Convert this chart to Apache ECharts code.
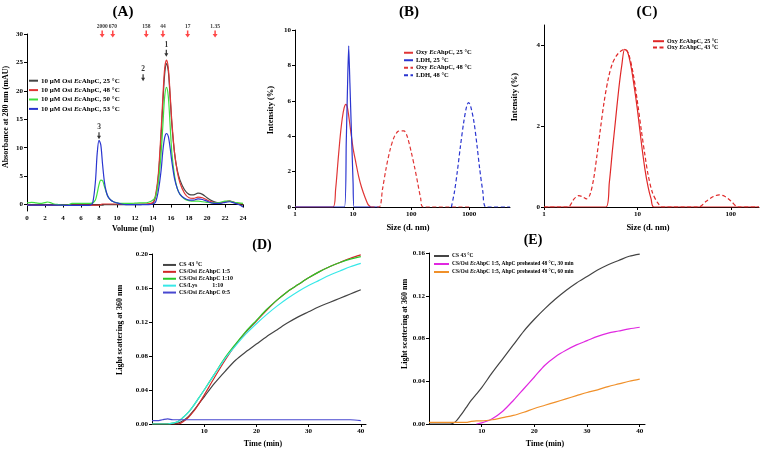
<!DOCTYPE html>
<html><head><meta charset="utf-8">
<script src="https://cdn.jsdelivr.net/npm/echarts@6/dist/echarts.min.js"></script>
<style>html,body{margin:0;padding:0;background:#fff}#c{width:760px;height:450px}</style>
</head><body><div id="c"></div>
<script>
// ---------- Panel A : SEC ----------
const aVol = [0,0.5,1,1.5,2,2.3,2.6,3,3.5,4,4.5,5,5.5,6,6.5,7,7.3,7.6,7.8,8.0,8.2,8.4,8.6,8.8,9.0,9.3,9.6,10,10.5,11,11.5,12,12.5,13,13.5,14,14.3,14.6,14.9,15.1,15.3,15.5,15.7,15.9,16.1,16.4,16.7,17,17.5,18,18.5,19,19.5,20,20.5,21,21.5,22,22.5,23,23.5,24];
const a25 = [-0.1,-0.1,-0.1,-0.1,-0.1, -0.1,-0.1,-0.1,-0.1,-0.1, -0.1,-0.1,-0.1,-0.1,-0.1, -0.1,-0.1,-0.1,-0.1,-0.1, -0.1,-0.1,0,0,0, 0,0,0,0,0, 0,0,0,0.05,0.1, 0.3,1.5,5,12,18, 23,24.8,23.5,19,14, 9,6,4.3,2.6,1.8, 1.7,2.0,1.8,1.2,0.7, 0.4,0.3,0.5,0.6,0.4, 0.1,-0.3];
const a48 = [-0.1,-0.1,-0.1,-0.1,-0.1, -0.1,-0.1,-0.1,-0.1,-0.1, -0.1,-0.1,-0.1,-0.1,-0.1, -0.1,-0.1,-0.1,-0.1,-0.1, 0,0.1,0.1,0.1,0.1, 0.1,0.1,0.1,0.1,0.1, 0.1,0.1,0.1,0.1,0.15, 0.4,1.8,5.5,13,19, 24,25.4,24,19.5,14.5, 9,5.8,3.8,2.0,1.2, 1.1,1.3,1.2,0.8,0.5, 0.3,0.3,0.5,0.6,0.4, 0.2,0.1];
const a50 = [0.3,0.4,0.3,0.2,0.35, 0.45,0.35,0.1,0,-0.1, -0.1,0.2,0.2,0.2,0.2, 0.2,0.3,0.8,2.0,3.5, 4.3,4.2,3.2,2.2,1.4, 0.8,0.5,0.3,0.2,0.2, 0.2,0.25,0.3,0.3,0.4, 0.8,1.5,4,9,14, 19,20.6,19,14,9, 5,2.8,1.8,1.0,0.7, 0.6,0.6,0.5,0.4,0.3, 0.3,0.4,0.6,0.6,0.4, 0.3,0.2];
const a53 = [-0.1,-0.1,-0.1,-0.1,-0.1, -0.1,-0.1,-0.1,-0.1,-0.1, -0.15,-0.15,-0.15,-0.15,-0.15, -0.1,0.3,4,9,11.3, 10.5,7,4,2.3,1.4, 0.8,0.5,0.3,0.1,0, 0,0,0,0,0, 0.1,0.5,2.5,6,9.5, 11.8,12.5,12,10,7.5, 4.5,2.8,1.8,1.1,0.8, 0.8,1.0,0.9,0.6,0.3, 0.2,0.2,0.4,0.5,0.3, 0,-0.4];
const aNames = ['10 μM Osi EcAhpC, 25 °C','10 μM Osi EcAhpC, 48 °C','10 μM Osi EcAhpC, 50 °C','10 μM Osi EcAhpC, 53 °C'];
const mwLabels = ['2000','670','158','44','17','1.35'];
const mwVol = [8.35,9.53,13.25,15.1,17.85,20.9];
const mwY = 30;
const pkLabels = ['1','2','3'];
const pkVol = [15.48,12.9,8.0];
const pkY = [26.6,22.3,12.1];

// ---------- Panel B : DLS ----------
const bNames = ['Oxy EcAhpC, 25 °C','LDH, 25 °C','Oxy EcAhpC, 48 °C','LDH, 48 °C'];
const bOxy25X = [1,4.5,5,5.5,6,6.5,7,7.5,8,9,10,11,12.5,14,16,18,20];
const bOxy25Y = [0,0,1.0,2.6,4.0,5.0,5.6,5.8,5.6,4.4,3.3,2.6,1.7,1.1,0.55,0.15,0];
const bLdh25X = [1,7.1,7.6,8.1,8.4,8.8,9.4,10.0,10.4,28];
const bLdh25Y = [0,0,3.5,7.5,9.1,7.0,4.0,1.3,0,0];
const bOxy48X = [20,28,32,37,43,50,58,65,75,85,100,115,130,145,160,1000];
const bOxy48Y = [0,0,1.0,2.2,3.2,3.9,4.25,4.3,4.3,4.0,3.1,2.2,1.3,0.5,0,0];
const bLdh48X = [490,550,620,700,800,900,970,1050,1200,1350,1500,1700,1950,5000];
const bLdh48Y = [0,0.8,2.0,3.4,4.8,5.7,5.9,5.7,4.8,3.5,2.2,0.9,0,0];

// ---------- Panel C : DLS ----------
const cNames = ['Oxy EcAhpC, 25 °C ','Oxy EcAhpC, 43 °C'];
const c25X = [1,4.6,5.0,5.4,5.8,6.3,6.8,7.3,7.8,8.5,9.2,10,11,12,13,14,15,200];
const c25Y = [0,0,0.6,1.4,2.1,2.9,3.5,3.9,3.85,3.5,3.0,2.4,1.6,0.95,0.5,0.2,0,0];
const c43X = [1,1.8,2.1,2.35,2.6,2.85,3.1,3.4,3.7,4.0,4.4,4.9,5.4,6.0,6.6,7.3,8.0,9.0,10,11,12,13,14.5,16.5,18.5,45,55,65,75,85,100,120,200];
const c43Y = [0,0,0.2,0.28,0.25,0.2,0.3,0.7,1.3,1.9,2.6,3.2,3.55,3.75,3.85,3.9,3.8,3.3,2.6,1.9,1.3,0.8,0.35,0.1,0,0,0.15,0.26,0.3,0.27,0.15,0,0];

// ---------- Panel D : light scattering ----------
const dTime = [0,1,2,3,4,5,6,7,8,9,10,12,14,16,18,20,22,24,26,28,30,32,34,36,38,40];
const dNames = ['CS 43 °C','CS/Osi EcAhpC 1:5','CS/Osi EcAhpC 1:10','CS/Lys          1:10','CS/Osi EcAhpC 0:5'];
const dCS = [0,0,0,0,0,0.001,0.004,0.009,0.016,0.024,0.032,0.048,0.062,0.075,0.085,0.094,0.103,0.111,0.119,0.126,0.132,0.138,0.143,0.148,0.153,0.158];
const d15 = [0,0,0,0,0,0,0.003,0.008,0.015,0.024,0.034,0.055,0.075,0.093,0.108,0.121,0.134,0.146,0.156,0.164,0.172,0.179,0.185,0.19,0.195,0.199];
const d110 = [0,0,0,0,0.001,0.003,0.008,0.014,0.022,0.031,0.040,0.059,0.078,0.094,0.109,0.122,0.135,0.146,0.156,0.164,0.172,0.179,0.185,0.190,0.194,0.197];
const dLys = [0,0,0,0,0.001,0.003,0.008,0.014,0.022,0.031,0.040,0.059,0.077,0.092,0.106,0.118,0.129,0.139,0.148,0.156,0.163,0.169,0.175,0.180,0.185,0.189];
const d05 = [0.004,0.004,0.005,0.006,0.005,0.005,0.005,0.005,0.005,0.005,0.005,0.005,0.005,0.005,0.005,0.005,0.005,0.005,0.005,0.005,0.005,0.005,0.005,0.005,0.005,0.004];

// ---------- Panel E : light scattering ----------
const eTime = [0,1,2,3,4,5,6,7,8,9,10,12,14,16,18,20,22,24,26,28,30,32,34,36,38,40];
const eNames = ['CS 43 °C ','CS/Osi EcAhpC 1:5, AhpC preheated 48 °C, 30 min','CS/Osi EcAhpC 1:5, AhpC preheated 48 °C, 60 min'];
const eCS = [0,0,0,0,0,0.002,0.008,0.015,0.022,0.028,0.034,0.048,0.061,0.074,0.087,0.098,0.108,0.117,0.125,0.132,0.138,0.144,0.149,0.153,0.157,0.159];
const e30 = [null,null,null,null,null,null,null,null,null,0,0.001,0.005,0.012,0.022,0.033,0.044,0.055,0.063,0.069,0.074,0.078,0.082,0.085,0.087,0.089,0.0905];
const e60 = [0.0015,0.0015,0.0015,0.0015,0.0015,0.0015,0.0015,0.0015,0.0025,0.003,0.003,0.004,0.006,0.008,0.011,0.0145,0.0175,0.0205,0.0235,0.0265,0.0295,0.032,0.035,0.0375,0.04,0.042];

// ---------- build ----------
const F = '"Liberation Serif","Times New Roman",serif';
const zip = (xs, ys) => xs.map((x, i) => [x, ys[i]]);
const axLine = {lineStyle:{color:'#000', width:1}};
const axTick = {inside:false, length:3, lineStyle:{color:'#000'}};
const lab = (extra) => Object.assign({color:'#000', fontFamily:F, fontWeight:'bold', fontSize:7, margin:4}, extra||{});
const base = (gi, o) => Object.assign({gridIndex:gi, axisLine:axLine, axisTick:axTick, splitLine:{show:false}}, o);
const logFmt = v => String(Math.round(v));

const grid = [
  {left:27, top:34, width:216, height:177},
  {left:295, top:30, width:215, height:177},
  {left:544, top:25, width:215, height:182},
  {left:152, top:254, width:214, height:170},
  {left:429, top:253, width:216, height:171}
];
const xAxis = [
  base(0,{type:'value', min:0, max:24, interval:2, axisLabel:lab()}),
  base(1,{type:'log', logBase:10, min:1, max:5000, axisLabel:lab({formatter:logFmt, showMaxLabel:false}), minorTick:{show:false}}),
  base(2,{type:'log', logBase:10, min:1, max:200, axisLabel:lab({formatter:logFmt, showMaxLabel:false}), minorTick:{show:false}}),
  base(3,{type:'value', min:0, max:41, interval:10, axisLabel:lab({showMinLabel:false, showMaxLabel:false})}),
  base(4,{type:'value', min:0, max:41, interval:10, axisLabel:lab({showMinLabel:false, showMaxLabel:false})})
];
const yAxis = [
  base(0,{type:'value', min:-1.13, max:30, splitNumber:6, axisLabel:lab({showMinLabel:false})}),
  base(1,{type:'value', min:0, max:10, interval:2, axisLabel:lab()}),
  base(2,{type:'value', min:0, max:4.5, interval:2, axisLabel:lab({showMaxLabel:false})}),
  base(3,{type:'value', min:0, max:0.2, interval:0.04, axisLabel:lab({formatter:v=>v.toFixed(2)})}),
  base(4,{type:'value', min:0, max:0.16, interval:0.04, axisLabel:lab({formatter:v=>v.toFixed(2)})})
];

function line(gi, name, data, color, extra) {
  return Object.assign({type:'line', name, xAxisIndex:gi, yAxisIndex:gi, data, symbol:'none',
    smooth:0.3, lineStyle:{color, width:1.2}, itemStyle:{color}, animation:false, z:3}, extra||{});
}
const dash = [4,2.5];

const series = [
  line(0, aNames[0], zip(aVol,a25), '#444444'),
  line(0, aNames[1], zip(aVol,a48), '#e03535'),
  line(0, aNames[2], zip(aVol,a50), '#3ee03e'),
  line(0, aNames[3], zip(aVol,a53), '#2a35d0'),
  {type:'scatter', xAxisIndex:0, yAxisIndex:0, clip:false, animation:false, silent:true,
   symbol:'path://M3.5,0 L6.5,0 L6.5,6 L10,6 L5,12 L0,6 L3.5,6 Z', symbolSize:[5,7],
   itemStyle:{color:'#ff1a1a'},
   label:{show:true, position:'top', distance:1, formatter:'{b}', color:'#000', fontFamily:F, fontWeight:'bold', fontSize:5.5},
   data: mwVol.map((v,i)=>({name:mwLabels[i], value:[v, mwY]}))},
  {type:'scatter', xAxisIndex:0, yAxisIndex:0, clip:false, animation:false, silent:true,
   symbol:'path://M3.5,0 L6.5,0 L6.5,6 L10,6 L5,12 L0,6 L3.5,6 Z', symbolSize:[4,7],
   itemStyle:{color:'#000'},
   label:{show:true, position:'top', distance:1, formatter:'{b}', color:'#000', fontFamily:F, fontWeight:'bold', fontSize:7.5},
   data: pkVol.map((v,i)=>({name:pkLabels[i], value:[v, pkY[i]]}))},

  line(1, bNames[0], zip(bOxy25X,bOxy25Y), '#e03535'),
  line(1, bNames[1], zip(bLdh25X,bLdh25Y), '#2a35d0', {smooth:0.15}),
  line(1, bNames[2], zip(bOxy48X,bOxy48Y), '#e03535', {lineStyle:{color:'#e03535', width:1.2, type:dash}}),
  line(1, bNames[3], zip(bLdh48X,bLdh48Y), '#2a35d0', {lineStyle:{color:'#2a35d0', width:1.2, type:dash}}),

  line(2, cNames[0], zip(c25X,c25Y), '#e02828'),
  line(2, cNames[1], zip(c43X,c43Y), '#e02828', {lineStyle:{color:'#e02828', width:1.2, type:dash}}),

  line(3, dNames[0], zip(dTime,dCS), '#444444'),
  line(3, dNames[1], zip(dTime,d15), '#d02828'),
  line(3, dNames[2], zip(dTime,d110), '#28c828'),
  line(3, dNames[3], zip(dTime,dLys), '#38e8e8'),
  line(3, dNames[4], zip(dTime,d05), '#4848d0'),

  line(4, eNames[0], zip(eTime,eCS), '#444444'),
  line(4, eNames[1], zip(eTime,e30), '#e028e0'),
  line(4, eNames[2], zip(eTime,e60), '#f0902a')
];

function legend(names, left, top, fs, lh, iw) {
  return {data:names, left, top, orient:'vertical', padding:0, itemGap:0, itemWidth:iw, itemHeight:2,
    selectedMode:false,
    itemStyle:{color:'rgba(0,0,0,0)', borderWidth:0, opacity:0},
    formatter: n => n.replace('EcAhpC','{i|Ec}AhpC'),
    textStyle:{color:'#000', fontFamily:F, fontWeight:'bold', fontSize:fs, lineHeight:lh, padding:[0,0,0,-2],
      rich:{i:{fontStyle:'italic', fontFamily:F, fontWeight:'bold', fontSize:fs, color:'#000', lineHeight:lh}}}};
}
const legends = [
  legend(aNames, 28, 76, 7, 9.4, 9),
  legend(bNames, 403, 49, 6.5, 7.5, 9),
  legend(cNames, 652, 38, 6, 6.4, 11),
  legend(dNames, 162, 261.5, 6, 6.9, 13),
  legend(eNames, 433, 252, 5.5, 8, 15)
];

function txt(x, y, text, size, rot) {
  return {type:'text', x, y, rotation:rot||0, silent:true,
    style:{text, font:'bold '+size+'px '+F, fill:'#000', align:'center', verticalAlign:'middle'}};
}
const graphic = [
  txt(123, 12, '(A)', 15), txt(409, 12, '(B)', 15), txt(647, 12, '(C)', 15),
  txt(262, 245, '(D)', 14), txt(533, 240, '(E)', 14),
  txt(6, 117, 'Absorbance at 280 nm (mAU)', 8, Math.PI/2),
  txt(133, 229, 'Volume (ml)', 8),
  txt(271, 110, 'Intensity (%)', 8.5, Math.PI/2),
  txt(408, 228, 'Size (d. nm)', 8.5),
  txt(515, 97, 'Intensity (%)', 8.5, Math.PI/2),
  txt(648, 228, 'Size (d. nm)', 8.5),
  txt(120, 330, 'Light scattering at 360 nm', 8, Math.PI/2),
  txt(263, 444, 'Time (min)', 8),
  txt(405, 324, 'Light scattering at 360 nm', 8, Math.PI/2),
  txt(545, 444, 'Time (min)', 8)
];

const chart = echarts.init(document.getElementById('c'), null, {renderer:'canvas'});
chart.setOption({backgroundColor:'#fff', animation:false, grid, xAxis, yAxis, series, legend:legends, graphic});
</script></body></html>
